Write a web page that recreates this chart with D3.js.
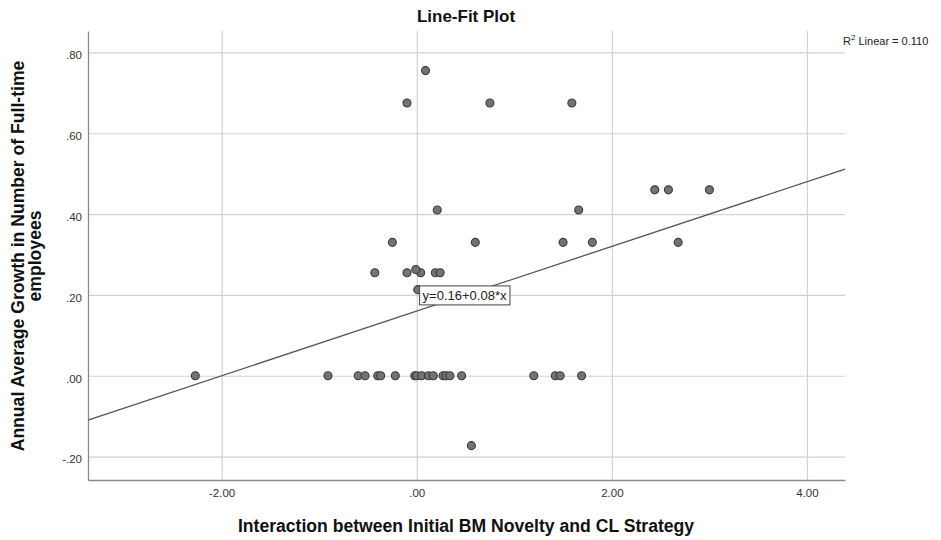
<!DOCTYPE html>
<html>
<head>
<meta charset="utf-8">
<script src="https://cdn.jsdelivr.net/npm/d3@7"></script>
<style>
  html, body { margin: 0; padding: 0; background: #fff; }
  svg { display: block; font-family: "Liberation Sans", Arial, sans-serif; }
</style>
</head>
<body>
<svg id="chart" width="941" height="540"></svg>
<script>
// ---- data ----
const xValues = [0.09, -0.10, 0.75, 1.59, 2.44, 2.58, 3.00, 0.21, 1.66,
  -0.25, 0.60, 1.50, 1.80, 2.68,
  -0.43, -0.10, 0.04, 0.19, 0.24, -0.01, 0.01,
  -2.27, -0.91, -0.60, -0.53, -0.40, -0.37, -0.22, -0.02, 0.00, 0.05, 0.12, 0.17, 0.27, 0.30, 0.34, 0.46, 1.20, 1.42, 1.47, 1.69,
  0.56];
const yValues = [0.755, 0.675, 0.675, 0.675, 0.46, 0.46, 0.46, 0.41, 0.41,
  0.33, 0.33, 0.33, 0.33, 0.33,
  0.255, 0.255, 0.255, 0.255, 0.255, 0.263, 0.213,
  0, 0, 0, 0, 0, 0, 0, 0, 0, 0, 0, 0, 0, 0, 0, 0, 0, 0, 0, 0,
  -0.173];
const xTicks = [-2, 0, 2, 4];
const yTicks = [-0.2, 0, 0.2, 0.4, 0.6, 0.8];
const fitIntercept = 0.16;
const fitSlope = 0.08;
const rSquared = "0.110";
const titleText = "Line-Fit Plot";
const xTitle = "Interaction between Initial BM Novelty and CL Strategy";
const yTitleLines = ["Annual Average Growth in Number of Full-time", "employees"];

// ---- layout ----
const pLeft = 88, pRight = 845, pTop = 31, pBottom = 480;
const svg = d3.select("#chart");
const x = d3.scaleLinear().domain([-3.37, 4.39]).range([pLeft, pRight]);
const y = d3.scaleLinear().domain([-0.258, 0.853]).range([pBottom, pTop]);
const fmt = v => d3.format(".2f")(v).replace("\u2212", "-").replace(/^(-?)0\./, "$1.");

// gridlines
svg.append("g")
  .attr("transform", `translate(0,${pBottom})`)
  .call(d3.axisBottom(x).tickValues(xTicks).tickSize(-(pBottom - pTop)).tickFormat(""))
  .call(g => g.select(".domain").remove())
  .call(g => g.selectAll("line").attr("stroke", "#d2d2d2").attr("stroke-width", 1.2));
svg.append("g")
  .attr("transform", `translate(${pLeft},0)`)
  .call(d3.axisLeft(y).tickValues(yTicks).tickSize(-(pRight - pLeft)).tickFormat(""))
  .call(g => g.select(".domain").remove())
  .call(g => g.selectAll("line").attr("stroke", "#d2d2d2").attr("stroke-width", 1.2));

// axes
svg.append("g")
  .attr("transform", `translate(0,${pBottom})`)
  .call(d3.axisBottom(x).tickValues(xTicks).tickSize(0).tickPadding(9).tickFormat(fmt))
  .call(g => g.select(".domain").attr("stroke", "#8a8a8a").attr("stroke-width", 1.3))
  .call(g => g.selectAll("text").attr("fill", "#333").attr("font-size", 11.5).attr("font-family", "Liberation Sans, Arial, sans-serif"));
svg.append("g")
  .attr("transform", `translate(${pLeft},0)`)
  .call(d3.axisLeft(y).tickValues(yTicks).tickSize(0).tickPadding(6).tickFormat(fmt))
  .call(g => g.select(".domain").attr("stroke", "#8a8a8a").attr("stroke-width", 1.3))
  .call(g => g.selectAll("text").attr("fill", "#333").attr("font-size", 11.5).attr("dy", "0.55em").attr("font-family", "Liberation Sans, Arial, sans-serif"));

// fit line
const [x0, x1] = x.domain();
svg.append("line")
  .attr("x1", x(x0)).attr("y1", y(fitIntercept + fitSlope * x0))
  .attr("x2", x(x1)).attr("y2", y(fitIntercept + fitSlope * x1))
  .attr("stroke", "#555").attr("stroke-width", 1.3);

// points
svg.append("g").selectAll("circle")
  .data(xValues.map((v, i) => [v, yValues[i]]))
  .join("circle")
  .attr("cx", d => x(d[0])).attr("cy", d => y(d[1]))
  .attr("r", 4)
  .attr("fill", "#737373").attr("stroke", "#3a3a3a").attr("stroke-width", 1.1);

// equation label
const eq = svg.append("g");
const eqText = eq.append("text")
  .attr("x", x(0.06)).attr("y", y(0.2) + 5)
  .attr("font-size", 13).attr("fill", "#222")
  .text(`y=${fitIntercept}+${fitSlope}*x`);
const bb = eqText.node().getBBox();
eq.insert("rect", "text")
  .attr("x", bb.x - 3).attr("y", bb.y - 2)
  .attr("width", bb.width + 6).attr("height", bb.height + 4)
  .attr("fill", "#fff").attr("stroke", "#444").attr("stroke-width", 1);

// title
svg.append("text")
  .attr("x", 466).attr("y", 22).attr("text-anchor", "middle")
  .attr("font-size", 17).attr("font-weight", "bold").attr("fill", "#111")
  .text(titleText);

// R squared
const r2 = svg.append("text").attr("x", 843).attr("y", 45)
  .attr("font-size", 11).attr("fill", "#222");
r2.append("tspan").text("R");
r2.append("tspan").attr("font-size", 8).attr("dy", -5).text("2");
r2.append("tspan").attr("dy", 5).text(` Linear = ${rSquared}`);

// x title
svg.append("text")
  .attr("x", 466).attr("y", 532).attr("text-anchor", "middle")
  .attr("font-size", 17.6).attr("font-weight", "bold").attr("fill", "#111")
  .text(xTitle);

// y title
const yt = svg.append("text")
  .attr("transform", `translate(24,256) rotate(-90)`)
  .attr("text-anchor", "middle")
  .attr("font-size", 17.6).attr("font-weight", "bold").attr("fill", "#111");
yTitleLines.forEach((t, i) => {
  yt.append("tspan").attr("x", 0).attr("dy", i === 0 ? 0 : 17).text(t);
});
</script>
</body>
</html>
